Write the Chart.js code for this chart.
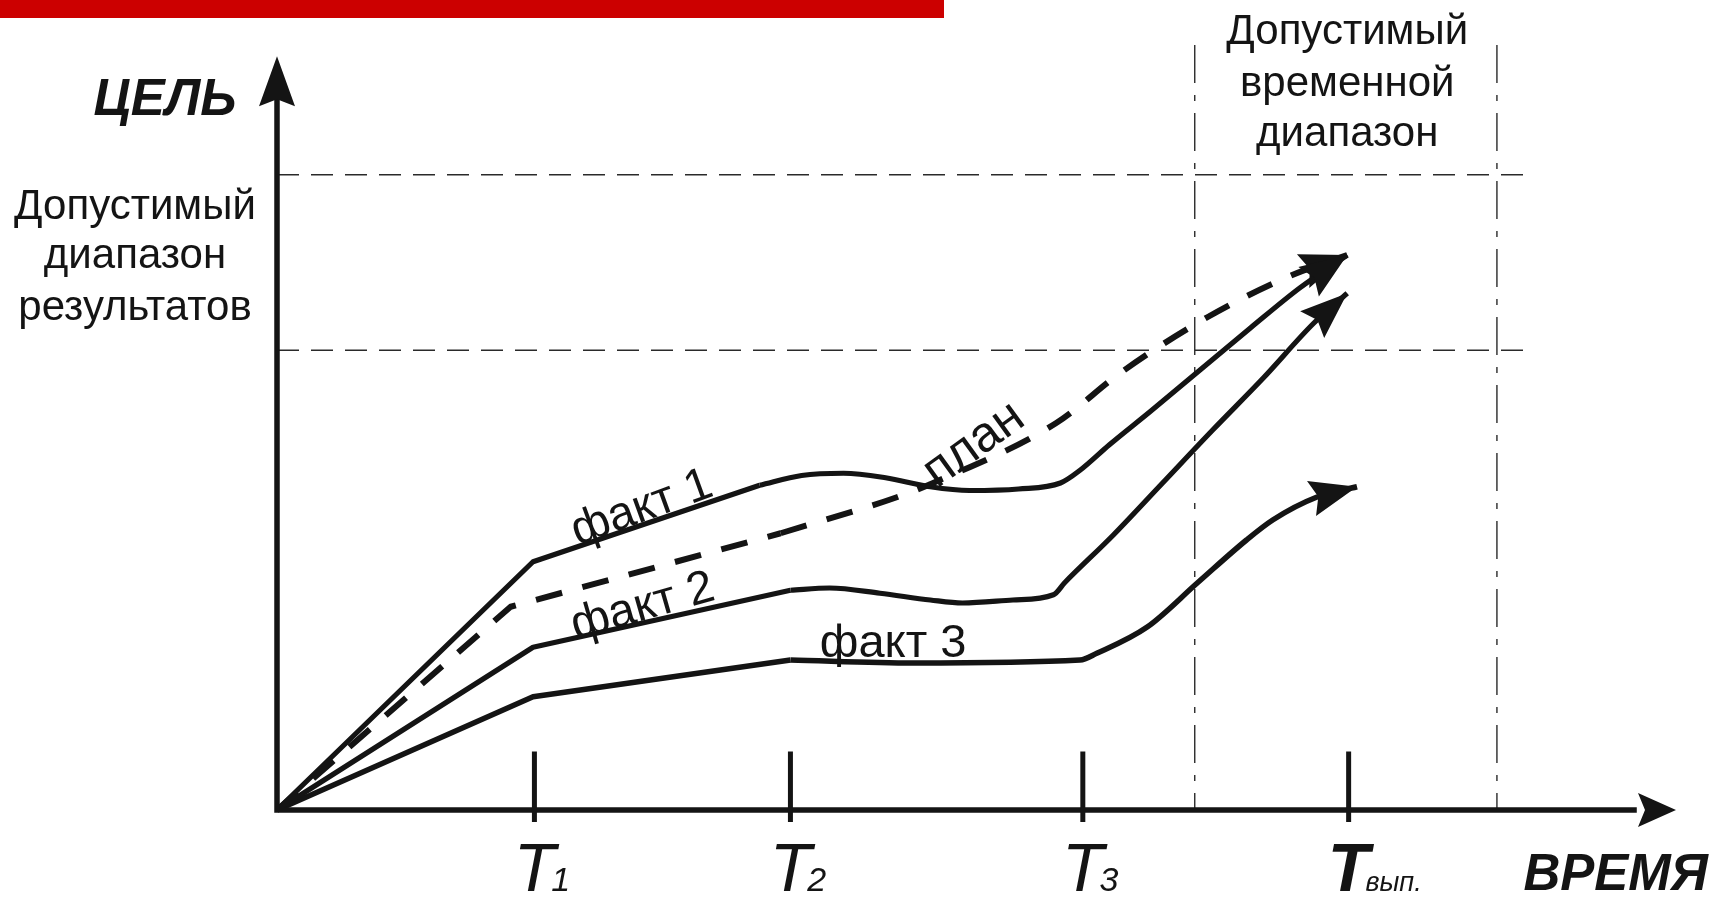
<!DOCTYPE html>
<html>
<head>
<meta charset="utf-8">
<script src="https://cdn.jsdelivr.net/npm/chart.js@4.4.1/dist/chart.umd.min.js"></script>
<style>
  html, body { margin: 0; padding: 0; background: #fff; }
  #wrap { width: 1718px; height: 898px; }
</style>
</head>
<body>
<div id="wrap"><canvas id="goal-chart" width="1718" height="898"></canvas></div>
<script>
// both axes run 0..100 (share of the axis length up to the arrow tip)
const planX  = [0, 16.7, 36.0, 44.3, 46.9, 55.7, 60.3, 66.5, 72.4, 76.5];
const planY  = [0, 27.1, 36.9, 41.7, 43.6, 51.6, 58.3, 65.7, 71.2, 74.0];

const fact1X = [0, 18.3, 34.5, 37.5, 40.5, 43.5, 46.7, 49.5, 53.0, 56.0, 57.4, 59.5, 62.4, 66.0, 69.6, 73.1, 76.5];
const fact1Y = [0, 33.1, 43.3, 44.6, 44.9, 44.3, 43.1, 42.6, 42.8, 43.6, 45.3, 48.7, 53.1, 58.7, 64.3, 69.6, 74.0];

const fact2X = [0, 18.3, 36.7, 39.5, 43.1, 46.7, 49.0, 52.6, 55.5, 56.3, 59.8, 63.3, 66.9, 70.5, 74.1, 76.5];
const fact2Y = [0, 21.7, 29.3, 29.6, 28.9, 28.0, 27.6, 28.0, 28.7, 30.3, 36.7, 43.6, 50.7, 57.6, 64.9, 68.9];

const fact3X = [0, 18.3, 36.7, 45.5, 57.4, 58.6, 62.2, 65.8, 69.3, 71.2, 74.3, 77.2];
const fact3Y = [0, 15.1, 20.0, 19.6, 20.0, 20.9, 24.4, 30.3, 36.0, 38.7, 41.7, 43.1];

const tickValues = [18.4, 36.7, 57.6, 76.6];
const tickSubs   = ['1', '2', '3', 'вып.'];

const goalRange = [61.3, 84.7];   // допустимый диапазон результатов
const timeRange = [65.6, 87.2];   // допустимый временной диапазон

const INK = '#141414';

const zip = (xs, ys) => xs.map((v, i) => ({ x: v, y: ys[i] }));

// each curve: straight broken part up to index `bend`, smooth part after it (ends in an arrow)
function curve(label, xs, ys, bend, extra) {
  const base = {
    borderColor: INK,
    borderWidth: 5.2,
    pointRadius: 0,
    clip: false,
    borderJoinStyle: 'round',
    borderCapStyle: 'butt'
  };
  return [
    Object.assign({}, base, { label, data: zip(xs.slice(0, bend + 1), ys.slice(0, bend + 1)), tension: 0 }, extra),
    Object.assign({}, base, { label, data: zip(xs.slice(bend), ys.slice(bend)), cubicInterpolationMode: 'monotone', arrow: true }, extra)
  ];
}

const data = {
  datasets: [
    ...curve('план', planX, planY, 2, { borderDash: [27, 21], borderWidth: 6 }),
    ...curve('факт 1', fact1X, fact1Y, 2),
    ...curve('факт 2', fact2X, fact2Y, 2),
    ...curve('факт 3', fact3X, fact3Y, 2, { borderWidth: 5.5 })
  ]
};

function arrowHead(ctx, tx, ty, ang, len, half) {
  const c = Math.cos(ang), s = Math.sin(ang);
  ctx.beginPath();
  ctx.moveTo(tx, ty);
  ctx.lineTo(tx - len * c - half * s, ty - len * s + half * c);
  ctx.lineTo(tx - (len - 7) * c, ty - (len - 7) * s);
  ctx.lineTo(tx - len * c + half * s, ty - len * s - half * c);
  ctx.closePath();
  ctx.fill();
}

function text(ctx, str, px, py, font, align, rot) {
  ctx.save();
  ctx.translate(px, py);
  if (rot) ctx.rotate(rot * Math.PI / 180);
  ctx.font = font;
  ctx.textAlign = align || 'center';
  ctx.textBaseline = 'alphabetic';
  ctx.fillText(str, 0, 0);
  ctx.restore();
}

const diagram = {
  id: 'diagram',
  beforeDatasetsDraw(chart) {
    const { ctx, scales: { x, y } } = chart;
    ctx.save();
    ctx.strokeStyle = '#2a2a2a';
    ctx.lineWidth = 1.4;
    ctx.setLineDash([22, 12]);
    goalRange.forEach(v => {
      ctx.beginPath();
      ctx.moveTo(x.getPixelForValue(0), y.getPixelForValue(v));
      ctx.lineTo(x.getPixelForValue(89.4), y.getPixelForValue(v));
      ctx.stroke();
    });
    ctx.setLineDash([38, 12, 6, 12]);
    timeRange.forEach(v => {
      ctx.beginPath();
      ctx.moveTo(x.getPixelForValue(v), y.getPixelForValue(102));
      ctx.lineTo(x.getPixelForValue(v), y.getPixelForValue(0));
      ctx.stroke();
    });
    ctx.restore();
  },
  afterDatasetsDraw(chart) {
    const { ctx, scales: { x, y } } = chart;
    const x0 = x.getPixelForValue(0), y0 = y.getPixelForValue(0);
    ctx.save();
    ctx.fillStyle = INK;
    ctx.strokeStyle = INK;

    // arrow heads at the end of every curve
    chart.data.datasets.forEach((ds, i) => {
      if (!ds.arrow) return;
      const pts = chart.getDatasetMeta(i).data;
      const a = pts[pts.length - 2], b = pts[pts.length - 1];
      arrowHead(ctx, b.x, b.y, Math.atan2(b.y - a.y, b.x - a.x), 47, 18);
    });

    // axes
    ctx.lineWidth = 5.5;
    ctx.lineCap = 'square';
    ctx.beginPath();
    ctx.moveTo(x0, y.getPixelForValue(95));
    ctx.lineTo(x0, y0);
    ctx.lineTo(x.getPixelForValue(97), y0);
    ctx.stroke();
    arrowHead(ctx, x0, y.getPixelForValue(100.5), -Math.PI / 2, 50, 18);
    arrowHead(ctx, x.getPixelForValue(100), y0, 0, 38, 17);

    // ticks
    ctx.lineWidth = 5;
    ctx.lineCap = 'butt';
    tickValues.forEach(v => {
      ctx.beginPath();
      ctx.moveTo(x.getPixelForValue(v), y.getPixelForValue(7.8));
      ctx.lineTo(x.getPixelForValue(v), y0 + 12);
      ctx.stroke();
    });

    // tick labels T1, T2, T3, Tвып.
    const tBase = y.getPixelForValue(-10.8);
    tickValues.forEach((v, i) => {
      const last = i === tickValues.length - 1;
      const tx = x.getPixelForValue(v);
      const tFont = (last ? 'italic bold ' : 'italic ') + '68px "Liberation Sans", Arial, sans-serif';
      ctx.font = tFont;
      const w = ctx.measureText('T').width;
      text(ctx, 'T', tx, tBase, tFont, 'center');
      const subFont = last ? 'italic 27px "Liberation Sans", Arial, sans-serif'
                           : 'italic 34px "Liberation Sans", Arial, sans-serif';
      text(ctx, tickSubs[i], tx + w / 2 - 4, tBase, subFont, 'left');
    });

    // axis titles
    const boldIt = 'italic bold 51px "Liberation Sans", Arial, sans-serif';
    text(ctx, 'ЦЕЛЬ', x.getPixelForValue(-2.9), y.getPixelForValue(92.7), boldIt, 'right');
    text(ctx, 'ВРЕМЯ', x.getPixelForValue(89.1), y.getPixelForValue(-10.7), boldIt, 'left');

    // range captions
    const reg = '42px "Liberation Sans", Arial, sans-serif';
    ['Допустимый', 'диапазон', 'результатов'].forEach((s, i) =>
      text(ctx, s, x.getPixelForValue(-10.15), y.getPixelForValue([78.8, 72.3, 65.3][i]), reg, 'center'));
    ['Допустимый', 'временной', 'диапазон'].forEach((s, i) =>
      text(ctx, s, x.getPixelForValue(76.5), y.getPixelForValue([102.1, 95.2, 88.5][i]), reg, 'center'));

    // curve names
    const big = '47px "Liberation Sans", Arial, sans-serif';
    text(ctx, 'факт 1', x.getPixelForValue(26.4), y.getPixelForValue(38.6), big, 'center', -20);
    text(ctx, 'факт 2', x.getPixelForValue(26.4), y.getPixelForValue(25.4), big, 'center', -16);
    text(ctx, 'факт 3', x.getPixelForValue(38.8), y.getPixelForValue(20.4), big, 'left');
    text(ctx, 'план', x.getPixelForValue(50.4), y.getPixelForValue(47.2), '50px "Liberation Sans", Arial, sans-serif', 'center', -36);

    // red header strip
    ctx.fillStyle = '#cc0000';
    ctx.fillRect(0, 0, 944, 18);
    ctx.restore();
  }
};

const config = {
  type: 'line',
  data,
  options: {
    responsive: false,
    animation: false,
    layout: { padding: { left: 277, right: 42, top: 60, bottom: 88 } },
    scales: {
      x: { type: 'linear', min: 0, max: 100, display: false },
      y: { type: 'linear', min: 0, max: 100, display: false }
    },
    plugins: {
      legend: { display: false },
      tooltip: { enabled: false }
    }
  },
  plugins: [diagram]
};

let goalChart = new Chart(document.getElementById('goal-chart'), config);
</script>
</body>
</html>
